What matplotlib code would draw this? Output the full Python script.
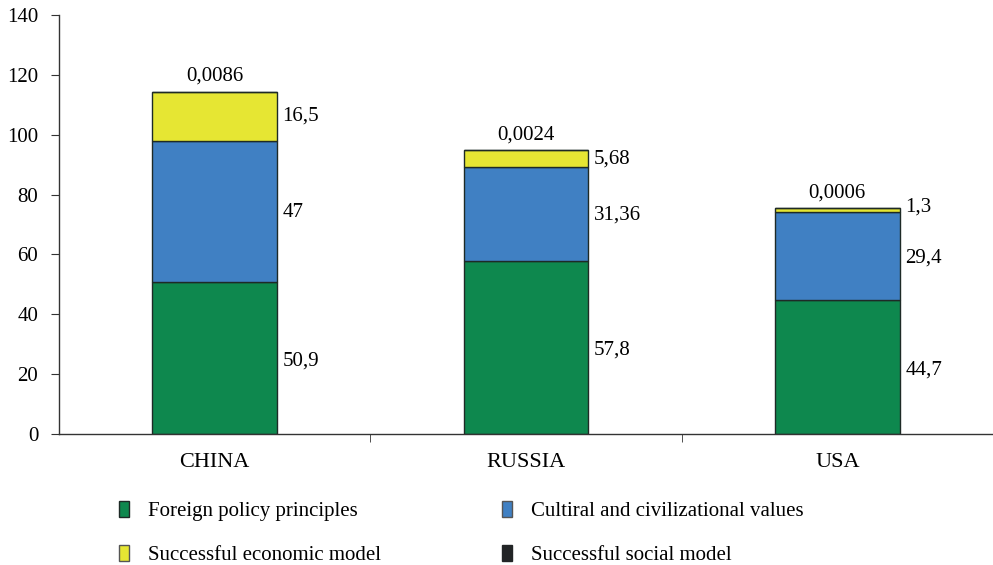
import numpy as np
import matplotlib.pyplot as plt
from matplotlib.patches import Patch

countries = ['CHINA', 'RUSSIA', 'USA']
foreign = [50.9, 57.8, 44.7]
cultural = [47, 31.36, 29.4]
economic = [16.5, 5.68, 1.3]
social = [0.0086, 0.0024, 0.0006]

foreign_lbl = ['50,9', '57,8', '44,7']
cultural_lbl = ['47', '31,36', '29,4']
economic_lbl = ['16,5', '5,68', '1,3']
social_lbl = ['0,0086', '0,0024', '0,0006']

plt.rcParams['font.family'] = ['Liberation Serif', 'DejaVu Serif']
c_green = '#0e884e'
c_blue = '#4080c3'
c_yellow = '#e6e633'
c_black = '#222426'
edge = '#1e2a26'
fs = 15

fig = plt.figure(figsize=(9.93, 5.65), dpi=100)
ax = fig.add_axes([59/993, 1-434/565, 1-59/993, 419/565])

x = np.arange(len(countries))
w = 0.4
b1 = np.array(foreign)
b2 = b1 + np.array(cultural)
b3 = b2 + np.array(economic)

ax.bar(x, foreign, w, color=c_green, edgecolor=edge, linewidth=1)
ax.bar(x, cultural, w, bottom=b1, color=c_blue, edgecolor=edge, linewidth=1)
ax.bar(x, economic, w, bottom=b2, color=c_yellow, edgecolor=edge, linewidth=1)
ax.bar(x, social, w, bottom=b3, color=c_black, edgecolor=edge, linewidth=1)

for i in range(len(countries)):
    xr = x[i] + w/2
    ax.annotate(foreign_lbl[i], (xr, foreign[i]/2), xytext=(4, -2), textcoords='offset points',
                ha='left', va='center', fontsize=fs)
    ax.annotate(cultural_lbl[i], (xr, b1[i] + cultural[i]/2), xytext=(4, -1), textcoords='offset points',
                ha='left', va='center', fontsize=fs)
    ax.annotate(economic_lbl[i], (xr, b2[i] + economic[i]/2), xytext=(4, 2 if economic[i] < 3 else 0),
                textcoords='offset points', ha='left', va='center', fontsize=fs)
    ax.annotate(social_lbl[i], (x[i], b3[i] + social[i]), xytext=(0, 4), textcoords='offset points',
                ha='center', va='bottom', fontsize=fs)

ax.set_xlim(-0.5, 2.5)
ax.set_ylim(0, 140)
ax.set_yticks(np.arange(0, 141, 20))
ax.set_xticks(x)
ax.set_xticklabels(countries, fontsize=16)
ax.set_xticks([0.5, 1.5], minor=True)
ax.tick_params(axis='x', which='major', length=0, pad=14)
ax.tick_params(axis='x', which='minor', length=6, direction='out', color='#333333')
ax.tick_params(axis='y', length=6, direction='out', pad=9, labelsize=fs, color='#333333')
for s in ['top', 'right']:
    ax.spines[s].set_visible(False)
for s in ['left', 'bottom']:
    ax.spines[s].set_color('#333333')
    ax.spines[s].set_linewidth(1)

handles = [Patch(facecolor=c_green, edgecolor=edge, label='Foreign policy principles'),
           Patch(facecolor=c_yellow, edgecolor='#555555', label='Successful economic model'),
           Patch(facecolor=c_blue, edgecolor='#555555', label='Cultiral and civilizational values'),
           Patch(facecolor=c_black, edgecolor=c_black, label='Successful social model')]
fig.legend(handles=handles, ncol=2, loc='upper left', bbox_to_anchor=(100/993, 1-482/565),
           frameon=False, fontsize=fs, handlelength=0.5, handleheight=0.8,
           handletextpad=0.9, labelspacing=1.15, columnspacing=5.8)

fig.savefig('out.png', dpi=100)
